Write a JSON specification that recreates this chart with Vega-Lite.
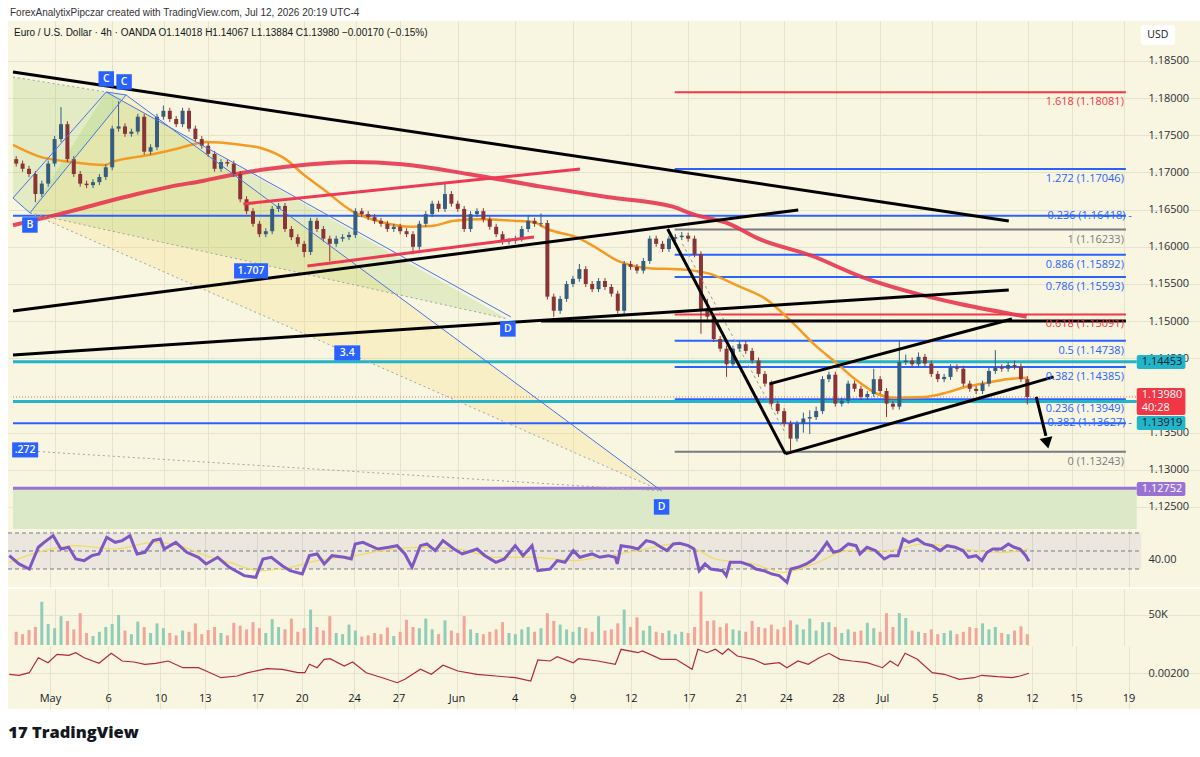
{
"$schema":"https://vega.github.io/schema/vega-lite/v6.json",
"background":"#ffffff",
"padding":{"left":3,"top":8,"right":0,"bottom":12},
"spacing":0,
"config":{
 "view":{"stroke":null,"fill":"#f8f6e1"},
 "font":"Open Sans",
 "axis":{"labelFont":"Open Sans","labelFontSize":11,"labelColor":"#2a2e39","gridColor":"#e6e3cc","domain":false,"ticks":false,"tickSize":0}
},
"title":{"text":"17  TradingView","orient":"bottom","anchor":"start","font":"Open Sans","fontSize":16.5,"fontWeight":800,"color":"#131722","offset":16,"dx":5},
"datasets":{
"candles":[
{"k":0,"o":1.1718,"h":1.1722,"l":1.1708,"c":1.1712,"v":22},
{"k":1,"o":1.1712,"h":1.1716,"l":1.1701,"c":1.1705,"v":18},
{"k":2,"o":1.1705,"h":1.1709,"l":1.1694,"c":1.1698,"v":25},
{"k":3,"o":1.1698,"h":1.1702,"l":1.1660,"c":1.1671,"v":30},
{"k":4,"o":1.1671,"h":1.1689,"l":1.1667,"c":1.1685,"v":72},
{"k":5,"o":1.1685,"h":1.1716,"l":1.1681,"c":1.1712,"v":35},
{"k":6,"o":1.1712,"h":1.1749,"l":1.1708,"c":1.1745,"v":28},
{"k":7,"o":1.1745,"h":1.1788,"l":1.1741,"c":1.1765,"v":48},
{"k":8,"o":1.1765,"h":1.1769,"l":1.1714,"c":1.1718,"v":40},
{"k":9,"o":1.1718,"h":1.1722,"l":1.1694,"c":1.1698,"v":26},
{"k":10,"o":1.1698,"h":1.1702,"l":1.1681,"c":1.1685,"v":53},
{"k":11,"o":1.1685,"h":1.1689,"l":1.1679,"c":1.1683,"v":20},
{"k":12,"o":1.1683,"h":1.1691,"l":1.1679,"c":1.1687,"v":15},
{"k":13,"o":1.1687,"h":1.1698,"l":1.1683,"c":1.1694,"v":22},
{"k":14,"o":1.1694,"h":1.1711,"l":1.1690,"c":1.1707,"v":30},
{"k":15,"o":1.1707,"h":1.1763,"l":1.1703,"c":1.1759,"v":35},
{"k":16,"o":1.1759,"h":1.1796,"l":1.1755,"c":1.1762,"v":50},
{"k":17,"o":1.1762,"h":1.1766,"l":1.1748,"c":1.1752,"v":24},
{"k":18,"o":1.1752,"h":1.1759,"l":1.1748,"c":1.1755,"v":18},
{"k":19,"o":1.1755,"h":1.1779,"l":1.1751,"c":1.1775,"v":39},
{"k":20,"o":1.1775,"h":1.1779,"l":1.1724,"c":1.1728,"v":30},
{"k":21,"o":1.1728,"h":1.1738,"l":1.1724,"c":1.1734,"v":20},
{"k":22,"o":1.1734,"h":1.1779,"l":1.1730,"c":1.1775,"v":36},
{"k":23,"o":1.1775,"h":1.1790,"l":1.1771,"c":1.1783,"v":28},
{"k":24,"o":1.1783,"h":1.1787,"l":1.1768,"c":1.1772,"v":20},
{"k":25,"o":1.1772,"h":1.1776,"l":1.1761,"c":1.1765,"v":16},
{"k":26,"o":1.1765,"h":1.1787,"l":1.1761,"c":1.1783,"v":24},
{"k":27,"o":1.1783,"h":1.1787,"l":1.1755,"c":1.1759,"v":22},
{"k":28,"o":1.1759,"h":1.1763,"l":1.1741,"c":1.1745,"v":36},
{"k":29,"o":1.1745,"h":1.1749,"l":1.1732,"c":1.1736,"v":18},
{"k":30,"o":1.1736,"h":1.1740,"l":1.1721,"c":1.1725,"v":25},
{"k":31,"o":1.1725,"h":1.1729,"l":1.1701,"c":1.1705,"v":30},
{"k":32,"o":1.1705,"h":1.1718,"l":1.1701,"c":1.1714,"v":20},
{"k":33,"o":1.1714,"h":1.1718,"l":1.1708,"c":1.1712,"v":16},
{"k":34,"o":1.1712,"h":1.1716,"l":1.1694,"c":1.1698,"v":37},
{"k":35,"o":1.1698,"h":1.1702,"l":1.1660,"c":1.1664,"v":32},
{"k":36,"o":1.1664,"h":1.1668,"l":1.1644,"c":1.1648,"v":26},
{"k":37,"o":1.1648,"h":1.1652,"l":1.1627,"c":1.1631,"v":38},
{"k":38,"o":1.1631,"h":1.1635,"l":1.1613,"c":1.1617,"v":28},
{"k":39,"o":1.1617,"h":1.1625,"l":1.1613,"c":1.1621,"v":20},
{"k":40,"o":1.1621,"h":1.1655,"l":1.1617,"c":1.1651,"v":43},
{"k":41,"o":1.1651,"h":1.1659,"l":1.1647,"c":1.1655,"v":30},
{"k":42,"o":1.1655,"h":1.1659,"l":1.1620,"c":1.1624,"v":26},
{"k":43,"o":1.1624,"h":1.1628,"l":1.1609,"c":1.1613,"v":44},
{"k":44,"o":1.1613,"h":1.1617,"l":1.1600,"c":1.1604,"v":22},
{"k":45,"o":1.1604,"h":1.1608,"l":1.1586,"c":1.1593,"v":28},
{"k":46,"o":1.1593,"h":1.1639,"l":1.1589,"c":1.1635,"v":59},
{"k":47,"o":1.1635,"h":1.1639,"l":1.1620,"c":1.1624,"v":30},
{"k":48,"o":1.1624,"h":1.1628,"l":1.1607,"c":1.1611,"v":24},
{"k":49,"o":1.1611,"h":1.1615,"l":1.1581,"c":1.1604,"v":48},
{"k":50,"o":1.1604,"h":1.1615,"l":1.1600,"c":1.1611,"v":20},
{"k":51,"o":1.1611,"h":1.1617,"l":1.1607,"c":1.1613,"v":18},
{"k":52,"o":1.1613,"h":1.1620,"l":1.1609,"c":1.1616,"v":34},
{"k":53,"o":1.1616,"h":1.1652,"l":1.1612,"c":1.1648,"v":24},
{"k":54,"o":1.1648,"h":1.1652,"l":1.1640,"c":1.1644,"v":14},
{"k":55,"o":1.1644,"h":1.1648,"l":1.1636,"c":1.1640,"v":16},
{"k":56,"o":1.1640,"h":1.1644,"l":1.1631,"c":1.1635,"v":20},
{"k":57,"o":1.1635,"h":1.1639,"l":1.1627,"c":1.1631,"v":18},
{"k":58,"o":1.1631,"h":1.1635,"l":1.1620,"c":1.1624,"v":29},
{"k":59,"o":1.1624,"h":1.1631,"l":1.1620,"c":1.1627,"v":15},
{"k":60,"o":1.1627,"h":1.1631,"l":1.1617,"c":1.1621,"v":22},
{"k":61,"o":1.1621,"h":1.1625,"l":1.1613,"c":1.1617,"v":42},
{"k":62,"o":1.1617,"h":1.1621,"l":1.1590,"c":1.1600,"v":30},
{"k":63,"o":1.1600,"h":1.1635,"l":1.1596,"c":1.1631,"v":28},
{"k":64,"o":1.1631,"h":1.1648,"l":1.1627,"c":1.1644,"v":44},
{"k":65,"o":1.1644,"h":1.1662,"l":1.1640,"c":1.1658,"v":26},
{"k":66,"o":1.1658,"h":1.1662,"l":1.1647,"c":1.1651,"v":18},
{"k":67,"o":1.1651,"h":1.1685,"l":1.1647,"c":1.1671,"v":41},
{"k":68,"o":1.1671,"h":1.1675,"l":1.1654,"c":1.1658,"v":24},
{"k":69,"o":1.1658,"h":1.1662,"l":1.1647,"c":1.1651,"v":20},
{"k":70,"o":1.1651,"h":1.1655,"l":1.1620,"c":1.1624,"v":48},
{"k":71,"o":1.1624,"h":1.1648,"l":1.1620,"c":1.1644,"v":26},
{"k":72,"o":1.1644,"h":1.1652,"l":1.1640,"c":1.1648,"v":20},
{"k":73,"o":1.1648,"h":1.1652,"l":1.1633,"c":1.1637,"v":18},
{"k":74,"o":1.1637,"h":1.1641,"l":1.1623,"c":1.1627,"v":22},
{"k":75,"o":1.1627,"h":1.1631,"l":1.1613,"c":1.1617,"v":26},
{"k":76,"o":1.1617,"h":1.1621,"l":1.1603,"c":1.1607,"v":38},
{"k":77,"o":1.1607,"h":1.1612,"l":1.1603,"c":1.1608,"v":20},
{"k":78,"o":1.1608,"h":1.1615,"l":1.1604,"c":1.1611,"v":18},
{"k":79,"o":1.1611,"h":1.1628,"l":1.1607,"c":1.1624,"v":26},
{"k":80,"o":1.1624,"h":1.1643,"l":1.1620,"c":1.1635,"v":30},
{"k":81,"o":1.1635,"h":1.1639,"l":1.1627,"c":1.1631,"v":22},
{"k":82,"o":1.1631,"h":1.1645,"l":1.1627,"c":1.1632,"v":28},
{"k":83,"o":1.1632,"h":1.1636,"l":1.1529,"c":1.1533,"v":53},
{"k":84,"o":1.1533,"h":1.1537,"l":1.1506,"c":1.1514,"v":40},
{"k":85,"o":1.1514,"h":1.1534,"l":1.1510,"c":1.1530,"v":34},
{"k":86,"o":1.1530,"h":1.1554,"l":1.1526,"c":1.1550,"v":26},
{"k":87,"o":1.1550,"h":1.1561,"l":1.1546,"c":1.1557,"v":22},
{"k":88,"o":1.1557,"h":1.1577,"l":1.1553,"c":1.1570,"v":30},
{"k":89,"o":1.1570,"h":1.1574,"l":1.1546,"c":1.1550,"v":28},
{"k":90,"o":1.1550,"h":1.1554,"l":1.1539,"c":1.1543,"v":22},
{"k":91,"o":1.1543,"h":1.1558,"l":1.1539,"c":1.1554,"v":48},
{"k":92,"o":1.1554,"h":1.1558,"l":1.1542,"c":1.1546,"v":24},
{"k":93,"o":1.1546,"h":1.1550,"l":1.1533,"c":1.1537,"v":26},
{"k":94,"o":1.1537,"h":1.1541,"l":1.1510,"c":1.1514,"v":36},
{"k":95,"o":1.1514,"h":1.1581,"l":1.1510,"c":1.1577,"v":59},
{"k":96,"o":1.1577,"h":1.1581,"l":1.1569,"c":1.1573,"v":30},
{"k":97,"o":1.1573,"h":1.1577,"l":1.1564,"c":1.1568,"v":46},
{"k":98,"o":1.1568,"h":1.1585,"l":1.1564,"c":1.1581,"v":24},
{"k":99,"o":1.1581,"h":1.1615,"l":1.1577,"c":1.1611,"v":32},
{"k":100,"o":1.1611,"h":1.1615,"l":1.1600,"c":1.1604,"v":22},
{"k":101,"o":1.1604,"h":1.1608,"l":1.1593,"c":1.1597,"v":20},
{"k":102,"o":1.1597,"h":1.1615,"l":1.1593,"c":1.1611,"v":24},
{"k":103,"o":1.1611,"h":1.1617,"l":1.1607,"c":1.1613,"v":18},
{"k":104,"o":1.1613,"h":1.1620,"l":1.1609,"c":1.1615,"v":22},
{"k":105,"o":1.1615,"h":1.1619,"l":1.1607,"c":1.1611,"v":20},
{"k":106,"o":1.1611,"h":1.1615,"l":1.1586,"c":1.1590,"v":30},
{"k":107,"o":1.1590,"h":1.1594,"l":1.1483,"c":1.1516,"v":89},
{"k":108,"o":1.1516,"h":1.1530,"l":1.1502,"c":1.1506,"v":40},
{"k":109,"o":1.1506,"h":1.1510,"l":1.1472,"c":1.1476,"v":41},
{"k":110,"o":1.1476,"h":1.1480,"l":1.1459,"c":1.1463,"v":30},
{"k":111,"o":1.1463,"h":1.1467,"l":1.1425,"c":1.1442,"v":36},
{"k":112,"o":1.1442,"h":1.1467,"l":1.1438,"c":1.1463,"v":26},
{"k":113,"o":1.1463,"h":1.1473,"l":1.1459,"c":1.1469,"v":24},
{"k":114,"o":1.1469,"h":1.1473,"l":1.1456,"c":1.1460,"v":22},
{"k":115,"o":1.1460,"h":1.1464,"l":1.1443,"c":1.1447,"v":40},
{"k":116,"o":1.1447,"h":1.1451,"l":1.1425,"c":1.1429,"v":30},
{"k":117,"o":1.1429,"h":1.1433,"l":1.1412,"c":1.1416,"v":28},
{"k":118,"o":1.1416,"h":1.1420,"l":1.1385,"c":1.1389,"v":34},
{"k":119,"o":1.1389,"h":1.1393,"l":1.1375,"c":1.1379,"v":26},
{"k":120,"o":1.1379,"h":1.1383,"l":1.1358,"c":1.1362,"v":30},
{"k":121,"o":1.1362,"h":1.1366,"l":1.1325,"c":1.1342,"v":41},
{"k":122,"o":1.1342,"h":1.1366,"l":1.1338,"c":1.1362,"v":34},
{"k":123,"o":1.1362,"h":1.1377,"l":1.1350,"c":1.1369,"v":26},
{"k":124,"o":1.1369,"h":1.1380,"l":1.1348,"c":1.1371,"v":44},
{"k":125,"o":1.1371,"h":1.1385,"l":1.1367,"c":1.1379,"v":24},
{"k":126,"o":1.1379,"h":1.1426,"l":1.1375,"c":1.1422,"v":38},
{"k":127,"o":1.1422,"h":1.1432,"l":1.1418,"c":1.1428,"v":38},
{"k":128,"o":1.1428,"h":1.1432,"l":1.1385,"c":1.1389,"v":30},
{"k":129,"o":1.1389,"h":1.1397,"l":1.1385,"c":1.1393,"v":20},
{"k":130,"o":1.1393,"h":1.1420,"l":1.1389,"c":1.1416,"v":26},
{"k":131,"o":1.1416,"h":1.1420,"l":1.1405,"c":1.1409,"v":22},
{"k":132,"o":1.1409,"h":1.1413,"l":1.1394,"c":1.1398,"v":24},
{"k":133,"o":1.1398,"h":1.1406,"l":1.1394,"c":1.1402,"v":37},
{"k":134,"o":1.1402,"h":1.1436,"l":1.1398,"c":1.1422,"v":28},
{"k":135,"o":1.1422,"h":1.1426,"l":1.1402,"c":1.1406,"v":22},
{"k":136,"o":1.1406,"h":1.1410,"l":1.1371,"c":1.1389,"v":53},
{"k":137,"o":1.1389,"h":1.1393,"l":1.1381,"c":1.1385,"v":30},
{"k":138,"o":1.1385,"h":1.1473,"l":1.1381,"c":1.1445,"v":53},
{"k":139,"o":1.1445,"h":1.1455,"l":1.1441,"c":1.1447,"v":45},
{"k":140,"o":1.1447,"h":1.1451,"l":1.1438,"c":1.1442,"v":24},
{"k":141,"o":1.1442,"h":1.1458,"l":1.1438,"c":1.1452,"v":22},
{"k":142,"o":1.1452,"h":1.1456,"l":1.1439,"c":1.1443,"v":20},
{"k":143,"o":1.1443,"h":1.1447,"l":1.1425,"c":1.1429,"v":26},
{"k":144,"o":1.1429,"h":1.1433,"l":1.1418,"c":1.1422,"v":18},
{"k":145,"o":1.1422,"h":1.1429,"l":1.1418,"c":1.1425,"v":20},
{"k":146,"o":1.1425,"h":1.1442,"l":1.1421,"c":1.1438,"v":24},
{"k":147,"o":1.1438,"h":1.1442,"l":1.1432,"c":1.1436,"v":18},
{"k":148,"o":1.1436,"h":1.1440,"l":1.1412,"c":1.1416,"v":22},
{"k":149,"o":1.1416,"h":1.1420,"l":1.1405,"c":1.1409,"v":30},
{"k":150,"o":1.1409,"h":1.1413,"l":1.1402,"c":1.1406,"v":28},
{"k":151,"o":1.1406,"h":1.1420,"l":1.1402,"c":1.1416,"v":36},
{"k":152,"o":1.1416,"h":1.1437,"l":1.1412,"c":1.1433,"v":26},
{"k":153,"o":1.1433,"h":1.1461,"l":1.1429,"c":1.1438,"v":30},
{"k":154,"o":1.1438,"h":1.1442,"l":1.1432,"c":1.1436,"v":20},
{"k":155,"o":1.1436,"h":1.1445,"l":1.1432,"c":1.1441,"v":18},
{"k":156,"o":1.1441,"h":1.1447,"l":1.1435,"c":1.1439,"v":24},
{"k":157,"o":1.1439,"h":1.1443,"l":1.1418,"c":1.1422,"v":31},
{"k":158,"o":1.1422,"h":1.1426,"l":1.1388,"c":1.1398,"v":18}
],
"ma":[
{"s":"e50","k":-0.5,"p":1.1737},{"s":"e50","k":3.4,"p":1.1722},{"s":"e50","k":8.6,"p":1.1714},{"s":"e50","k":13.8,"p":1.1710},{"s":"e50","k":15.3,"p":1.1715},{"s":"e50","k":18.9,"p":1.1721},{"s":"e50","k":21.5,"p":1.1725},{"s":"e50","k":25.1,"p":1.1732},{"s":"e50","k":27.7,"p":1.1738},{"s":"e50","k":29.7,"p":1.1741},{"s":"e50","k":34.4,"p":1.1738},{"s":"e50","k":38.6,"p":1.1732},{"s":"e50","k":42.1,"p":1.1718},{"s":"e50","k":44.8,"p":1.1698},{"s":"e50","k":47.9,"p":1.1678},{"s":"e50","k":52.5,"p":1.1648},{"s":"e50","k":57.2,"p":1.1633},{"s":"e50","k":61.8,"p":1.1627},{"s":"e50","k":64.9,"p":1.1628},{"s":"e50","k":68.5,"p":1.1635},{"s":"e50","k":72.6,"p":1.1637},{"s":"e50","k":77.8,"p":1.1635},{"s":"e50","k":80.9,"p":1.1633},{"s":"e50","k":83.0,"p":1.1624},{"s":"e50","k":88.1,"p":1.1611},{"s":"e50","k":90.2,"p":1.1601},{"s":"e50","k":94.3,"p":1.1580},{"s":"e50","k":97.9,"p":1.1572},{"s":"e50","k":104.7,"p":1.1569},{"s":"e50","k":108.3,"p":1.1564},{"s":"e50","k":112.9,"p":1.1547},{"s":"e50","k":117.1,"p":1.1530},{"s":"e50","k":121.2,"p":1.1499},{"s":"e50","k":124.9,"p":1.1467},{"s":"e50","k":128.0,"p":1.1445},{"s":"e50","k":131.1,"p":1.1422},{"s":"e50","k":134.6,"p":1.1402},{"s":"e50","k":137.3,"p":1.1397},{"s":"e50","k":141.9,"p":1.1398},{"s":"e50","k":145.0,"p":1.1403},{"s":"e50","k":148.6,"p":1.1412},{"s":"e50","k":151.7,"p":1.1417},{"s":"e50","k":154.8,"p":1.1422},{"s":"e50","k":157.9,"p":1.1424},
{"s":"e200","k":-0.5,"p":1.1629},{"s":"e200","k":3.4,"p":1.1637},{"s":"e200","k":8.6,"p":1.1648},{"s":"e200","k":13.8,"p":1.1660},{"s":"e200","k":18.9,"p":1.1671},{"s":"e200","k":24.1,"p":1.1681},{"s":"e200","k":29.3,"p":1.1689},{"s":"e200","k":34.4,"p":1.1698},{"s":"e200","k":39.6,"p":1.1705},{"s":"e200","k":44.8,"p":1.1710},{"s":"e200","k":52.5,"p":1.1714},{"s":"e200","k":60.3,"p":1.1711},{"s":"e200","k":70.6,"p":1.1698},{"s":"e200","k":82.0,"p":1.1681},{"s":"e200","k":92.3,"p":1.1667},{"s":"e200","k":102.6,"p":1.1654},{"s":"e200","k":105.7,"p":1.1644},{"s":"e200","k":111.4,"p":1.1631},{"s":"e200","k":116.0,"p":1.1611},{"s":"e200","k":124.3,"p":1.1588},{"s":"e200","k":132.0,"p":1.1560},{"s":"e200","k":139.8,"p":1.1539},{"s":"e200","k":147.5,"p":1.1523},{"s":"e200","k":157.9,"p":1.1506}
],
"tl":[
{"id":"B1","g":"b","k":-0.5,"p":1.18352},{"id":"B1","g":"b","k":155.1,"p":1.16348},
{"id":"B2","g":"b","k":-0.5,"p":1.15137},{"id":"B2","g":"b","k":122.2,"p":1.16496},
{"id":"B3","g":"b","k":-0.5,"p":1.14546},{"id":"B3","g":"b","k":155.1,"p":1.15420},
{"id":"B4","g":"b","k":82.0,"p":1.15003},{"id":"B4","g":"b","k":173.4,"p":1.15003},
{"id":"B5","g":"b","k":101.8,"p":1.16240},{"id":"B5","g":"b","k":120.2,"p":1.13214},
{"id":"B6","g":"b","k":117.7,"p":1.14156},{"id":"B6","g":"b","k":155.6,"p":1.15030},
{"id":"B7","g":"b","k":120.2,"p":1.13214},{"id":"B7","g":"b","k":162.1,"p":1.14250},
{"id":"AR","g":"b","k":159.4,"p":1.13981},{"id":"AR","g":"b","k":160.9,"p":1.13456},
{"id":"L1","g":"r","k":35.5,"p":1.16577},{"id":"L1","g":"r","k":88.1,"p":1.17047},
{"id":"L2","g":"r","k":45.5,"p":1.15743},{"id":"L2","g":"r","k":80.9,"p":1.16133},
{"id":"P1","g":"u","k":-0.5,"p":1.16657},{"id":"P1","g":"u","k":14.07,"p":1.18083},
{"id":"P2","g":"u","k":2.14,"p":1.16456},{"id":"P2","g":"u","k":17.17,"p":1.18043},
{"id":"P3","g":"u","k":-0.5,"p":1.16657},{"id":"P3","g":"u","k":2.14,"p":1.16456},
{"id":"P4","g":"u","k":14.07,"p":1.18083},{"id":"P4","g":"u","k":17.17,"p":1.18043},
{"id":"CD1","g":"u","k":14.07,"p":1.18083},{"id":"CD1","g":"u","k":77.3,"p":1.15057},
{"id":"CD2","g":"u","k":17.17,"p":1.18043},{"id":"CD2","g":"u","k":100.85,"p":1.12716},
{"id":"D1","g":"d","k":-0.5,"p":1.18285},{"id":"D1","g":"d","k":14.07,"p":1.18083},
{"id":"D2","g":"d","k":2.14,"p":1.16456},{"id":"D2","g":"d","k":76.83,"p":1.15030},
{"id":"D3","g":"d","k":2.14,"p":1.16456},{"id":"D3","g":"d","k":100.85,"p":1.12716},
{"id":"D4","g":"d","k":-0.5,"p":1.13268},{"id":"D4","g":"d","k":100.85,"p":1.12716},
{"id":"G1","g":"s","k":104.1,"p":1.1604},{"id":"G1","g":"s","k":120.2,"p":1.1349}
],
"tri":[
{"id":"T3","o":0,"k":2.14,"p":1.16456},{"id":"T3","o":1,"k":17.17,"p":1.18043},{"id":"T3","o":2,"k":100.85,"p":1.12716},{"id":"T3","o":3,"k":2.14,"p":1.16456},
{"id":"T1","o":0,"k":-0.5,"p":1.18285},{"id":"T1","o":1,"k":14.07,"p":1.18083},{"id":"T1","o":2,"k":-0.5,"p":1.16657},{"id":"T1","o":3,"k":-0.5,"p":1.18285},
{"id":"T2","o":0,"k":2.14,"p":1.16456},{"id":"T2","o":1,"k":14.07,"p":1.18083},{"id":"T2","o":2,"k":76.83,"p":1.15030},{"id":"T2","o":3,"k":2.14,"p":1.16456},
{"id":"T4","o":0,"k":-0.5,"p":1.16657},{"id":"T4","o":1,"k":14.07,"p":1.18083},{"id":"T4","o":2,"k":17.17,"p":1.18043},{"id":"T4","o":3,"k":2.14,"p":1.16456},{"id":"T4","o":4,"k":-0.5,"p":1.16657}
],
"pl":[
{"t":"C","k":14.07,"p":1.18258,"w":"n"},{"t":"C","k":16.86,"p":1.18218,"w":"n"},{"t":"B","k":2.14,"p":1.16294,"w":"n"},{"t":"D","k":76.83,"p":1.14896,"w":"n"},{"t":"D","k":100.85,"p":1.12501,"w":"n"},
{"t":"1.707","k":36.7,"p":1.15676,"w":"w"},{"t":"3.4","k":51.73,"p":1.14573,"w":"m"},{"t":".272","k":1.4,"p":1.13268,"w":"m"}
],
"fib":[
{"p":1.18081,"lab":"1.618 (1.18081)","kind":"r","k1":102.9,"k2":173.4},
{"p":1.17046,"lab":"1.272 (1.17046)","kind":"b","k1":102.9,"k2":173.4},
{"p":1.16233,"lab":"1 (1.16233)","kind":"g","k1":102.9,"k2":173.4},
{"p":1.15892,"lab":"0.886 (1.15892)","kind":"b","k1":102.9,"k2":173.4},
{"p":1.15593,"lab":"0.786 (1.15593)","kind":"b","k1":102.9,"k2":173.4},
{"p":1.15091,"lab":"0.618 (1.15091)","kind":"r","k1":102.9,"k2":173.4},
{"p":1.14738,"lab":"0.5 (1.14738)","kind":"b","k1":102.9,"k2":173.4},
{"p":1.14385,"lab":"0.382 (1.14385)","kind":"b","k1":102.9,"k2":173.4},
{"p":1.13949,"lab":"0.236 (1.13949)","kind":"b","k1":102.9,"k2":173.4},
{"p":1.13243,"lab":"0 (1.13243)","kind":"g","k1":102.9,"k2":173.4},
{"p":1.16418,"lab":"0.236 (1.16418) -","kind":"t","k1":-0.5,"k2":173.4},
{"p":1.13627,"lab":"0.382 (1.13627) -","kind":"t","k1":-0.5,"k2":173.4}
],
"hl":[{"p":1.14453,"kind":"cy"},{"p":1.13919,"kind":"cy"},{"p":1.12752,"kind":"pu"}],
"tags":[
{"t":"1.14453","kind":"cy","pt":1.14545,"pb":1.14356,"py":1.14453},
{"t":"1.13980","kind":"rd","pt":1.14101,"pb":1.13737,"py":1.14006},
{"t":"1.13919","kind":"cy","pt":1.13724,"pb":1.13536,"py":1.13630},
{"t":"1.12752","kind":"pu","pt":1.12836,"pb":1.12648,"py":1.12742}
],
"rsi":[
{"k":-0.3,"v":44.8},{"k":1.2,"v":35.6},{"k":2.8,"v":30.0},{"k":4.2,"v":54.1},{"k":5.1,"v":59.6},{"k":6.5,"v":67.0},{"k":7.7,"v":52.2},{"k":8.9,"v":54.1},{"k":10.0,"v":41.1},{"k":11.3,"v":39.3},{"k":12.5,"v":44.8},{"k":13.6,"v":46.7},{"k":14.8,"v":65.2},{"k":16.1,"v":59.6},{"k":17.2,"v":61.5},{"k":18.4,"v":67.0},{"k":19.5,"v":46.7},{"k":20.7,"v":48.5},{"k":22.0,"v":61.5},{"k":23.1,"v":63.3},{"k":23.7,"v":52.2},{"k":25.5,"v":59.6},{"k":27.2,"v":48.5},{"k":29.0,"v":43.0},{"k":30.2,"v":35.6},{"k":32.0,"v":43.0},{"k":33.8,"v":31.9},{"k":36.1,"v":22.6},{"k":37.9,"v":20.7},{"k":39.0,"v":41.1},{"k":40.3,"v":43.0},{"k":42.0,"v":33.7},{"k":43.2,"v":28.1},{"k":45.1,"v":24.4},{"k":46.2,"v":44.8},{"k":47.4,"v":46.7},{"k":48.5,"v":35.6},{"k":49.7,"v":44.8},{"k":51.6,"v":43.0},{"k":52.7,"v":41.1},{"k":53.3,"v":57.8},{"k":54.5,"v":59.6},{"k":56.8,"v":52.2},{"k":58.5,"v":54.1},{"k":59.8,"v":55.9},{"k":61.0,"v":46.7},{"k":62.1,"v":31.9},{"k":63.4,"v":55.9},{"k":64.4,"v":57.8},{"k":65.7,"v":50.4},{"k":66.9,"v":61.5},{"k":68.6,"v":52.2},{"k":69.9,"v":46.7},{"k":72.2,"v":52.2},{"k":73.4,"v":44.8},{"k":75.1,"v":37.4},{"k":76.4,"v":41.1},{"k":78.1,"v":55.9},{"k":79.3,"v":44.8},{"k":80.7,"v":55.9},{"k":81.6,"v":28.1},{"k":83.5,"v":30.0},{"k":84.6,"v":39.3},{"k":85.8,"v":37.4},{"k":87.1,"v":50.4},{"k":88.1,"v":43.0},{"k":90.0,"v":46.7},{"k":91.2,"v":43.0},{"k":92.5,"v":44.8},{"k":93.6,"v":43.0},{"k":93.9,"v":35.6},{"k":94.5,"v":55.9},{"k":96.1,"v":54.1},{"k":97.1,"v":52.2},{"k":98.4,"v":61.5},{"k":99.5,"v":59.6},{"k":100.7,"v":54.1},{"k":101.6,"v":50.4},{"k":102.6,"v":57.8},{"k":103.6,"v":58.5},{"k":104.9,"v":55.9},{"k":105.8,"v":52.2},{"k":106.6,"v":28.1},{"k":107.5,"v":35.6},{"k":108.4,"v":30.0},{"k":110.2,"v":28.1},{"k":110.8,"v":22.6},{"k":111.4,"v":37.4},{"k":113.1,"v":37.4},{"k":114.6,"v":33.7},{"k":115.4,"v":30.0},{"k":116.6,"v":28.1},{"k":117.9,"v":24.4},{"k":119.0,"v":22.6},{"k":120.2,"v":15.2},{"k":120.8,"v":30.0},{"k":121.9,"v":31.9},{"k":123.2,"v":35.6},{"k":124.4,"v":41.1},{"k":125.5,"v":50.4},{"k":126.4,"v":59.6},{"k":127.4,"v":48.5},{"k":128.4,"v":50.4},{"k":129.7,"v":57.8},{"k":130.9,"v":55.9},{"k":131.5,"v":46.7},{"k":132.6,"v":54.1},{"k":133.9,"v":50.4},{"k":135.3,"v":41.1},{"k":136.2,"v":44.8},{"k":137.4,"v":44.8},{"k":138.2,"v":63.3},{"k":139.1,"v":59.6},{"k":140.4,"v":63.3},{"k":141.5,"v":57.8},{"k":142.7,"v":55.9},{"k":143.9,"v":50.4},{"k":145.0,"v":55.9},{"k":146.3,"v":54.1},{"k":147.5,"v":50.4},{"k":148.3,"v":43.0},{"k":149.5,"v":44.8},{"k":150.4,"v":39.3},{"k":151.2,"v":48.5},{"k":152.1,"v":52.2},{"k":153.4,"v":52.2},{"k":154.5,"v":57.8},{"k":155.4,"v":54.1},{"k":156.3,"v":52.2},{"k":157.2,"v":44.8},{"k":157.7,"v":38.6}
],
"rsima":[
{"k":-0.3,"v":37.4},{"k":4.2,"v":48.5},{"k":10.0,"v":55.9},{"k":16.1,"v":52.2},{"k":22.0,"v":59.6},{"k":26.0,"v":55.9},{"k":30.2,"v":44.8},{"k":33.8,"v":37.4},{"k":38.6,"v":28.1},{"k":43.2,"v":31.9},{"k":47.4,"v":39.3},{"k":53.3,"v":44.8},{"k":57.5,"v":50.4},{"k":63.4,"v":54.1},{"k":69.2,"v":52.2},{"k":75.1,"v":43.0},{"k":81.0,"v":43.0},{"k":87.1,"v":39.3},{"k":90.9,"v":43.0},{"k":97.1,"v":50.4},{"k":103.0,"v":57.8},{"k":106.6,"v":50.4},{"k":109.1,"v":41.1},{"k":115.0,"v":35.6},{"k":119.6,"v":26.3},{"k":124.4,"v":35.6},{"k":129.7,"v":50.4},{"k":135.6,"v":50.4},{"k":141.5,"v":57.8},{"k":147.5,"v":52.2},{"k":153.4,"v":48.5},{"k":157.7,"v":52.2}
],
"ind":[
{"k":-0.3,"v":0.00187},{"k":1.2,"v":0.00177},{"k":2.8,"v":0.00203},{"k":4.2,"v":0.00353},{"k":5.7,"v":0.00303},{"k":7.1,"v":0.00387},{"k":8.9,"v":0.00377},{"k":10.0,"v":0.00403},{"k":11.3,"v":0.00353},{"k":13.6,"v":0.00297},{"k":15.5,"v":0.00397},{"k":17.2,"v":0.0032},{"k":19.0,"v":0.0031},{"k":20.7,"v":0.00287},{"k":22.4,"v":0.00297},{"k":24.3,"v":0.0032},{"k":26.6,"v":0.00253},{"k":29.0,"v":0.00253},{"k":30.2,"v":0.0022},{"k":32.5,"v":0.00153},{"k":35.0,"v":0.0017},{"k":36.7,"v":0.00203},{"k":39.6,"v":0.00243},{"k":42.0,"v":0.00237},{"k":44.4,"v":0.00203},{"k":45.5,"v":0.00203},{"k":46.2,"v":0.00287},{"k":47.4,"v":0.00253},{"k":48.5,"v":0.00337},{"k":49.4,"v":0.00343},{"k":51.6,"v":0.0027},{"k":52.9,"v":0.0031},{"k":55.0,"v":0.00203},{"k":57.5,"v":0.00153},{"k":59.8,"v":0.00103},{"k":61.0,"v":0.00137},{"k":63.4,"v":0.00237},{"k":65.1,"v":0.00187},{"k":66.9,"v":0.00277},{"k":69.2,"v":0.0022},{"k":72.2,"v":0.00187},{"k":75.1,"v":0.0017},{"k":78.1,"v":0.00153},{"k":80.5,"v":0.0012},{"k":81.6,"v":0.0033},{"k":83.5,"v":0.0032},{"k":84.6,"v":0.00363},{"k":87.1,"v":0.00303},{"k":87.9,"v":0.00343},{"k":90.9,"v":0.0032},{"k":93.6,"v":0.00287},{"k":94.5,"v":0.00437},{"k":97.1,"v":0.00403},{"k":97.8,"v":0.0042},{"k":100.7,"v":0.00337},{"k":103.0,"v":0.00337},{"k":105.5,"v":0.00237},{"k":106.4,"v":0.00437},{"k":107.8,"v":0.00403},{"k":109.1,"v":0.00437},{"k":110.2,"v":0.00387},{"k":111.1,"v":0.00443},{"k":112.5,"v":0.0037},{"k":115.0,"v":0.00337},{"k":116.7,"v":0.00287},{"k":119.0,"v":0.00303},{"k":120.2,"v":0.00253},{"k":121.9,"v":0.0032},{"k":123.5,"v":0.00287},{"k":125.2,"v":0.00353},{"k":126.7,"v":0.00397},{"k":128.4,"v":0.00337},{"k":130.3,"v":0.0032},{"k":132.6,"v":0.00303},{"k":135.0,"v":0.00253},{"k":136.2,"v":0.0032},{"k":137.4,"v":0.0027},{"k":138.5,"v":0.00397},{"k":140.4,"v":0.00337},{"k":142.7,"v":0.00203},{"k":144.6,"v":0.00187},{"k":146.9,"v":0.00137},{"k":149.2,"v":0.00153},{"k":150.4,"v":0.00177},{"k":152.8,"v":0.00163},{"k":155.1,"v":0.00153},{"k":156.3,"v":0.0017},{"k":157.7,"v":0.00197}
],
"rsilev":[{"v":70},{"v":50},{"v":30}]
},
"vconcat":[
{
"width":1192,"height":508,
"title":{"text":"ForexAnalytixPipczar created with TradingView.com, Jul 12, 2026 20:19 UTC-4","anchor":"start","font":"Liberation Sans","fontSize":10,"fontWeight":"normal","color":"#333333","offset":3,"dx":5},
"resolve":{"scale":{"color":"independent","fill":"independent","strokeWidth":"independent"}},
"layer":[
{"data":{"values":[{"k1":-0.5,"k2":175.1,"p1":1.12752,"p2":1.12204}]},
 "mark":{"type":"rect","fill":"#dce9c8"},
 "encoding":{
  "x":{"field":"k1","type":"quantitative","title":null,"scale":{"domain":[-0.5,184.2],"nice":false,"zero":false},
       "axis":{"values":[6,15,23.125,30,38.125,45,53.125,60,69,78,87,96,105,113.125,120,128.125,135,143.125,150,158.125,165,173.125],"labels":false,"grid":true,"title":null}},
  "x2":{"field":"k2"},
  "y":{"field":"p1","type":"quantitative","title":null,"scale":{"domain":[1.12204,1.19038],"nice":false,"zero":false},
       "axis":{"orient":"right","values":[1.125,1.13,1.135,1.145,1.15,1.155,1.16,1.165,1.17,1.175,1.18,1.185],"format":".5f","labelAlign":"left","labelPadding":-52,"grid":true,"title":null}},
  "y2":{"field":"p2"}}},
{"data":{"name":"tri"},"transform":[{"filter":"datum.id === 'T3'"}],
 "mark":{"type":"line","fill":"#ffd54f","fillOpacity":0.18,"strokeWidth":0},
 "encoding":{"x":{"field":"k","type":"quantitative","title":null},"y":{"field":"p","type":"quantitative","title":null},"order":{"field":"o","type":"quantitative"}}},
{"data":{"name":"tri"},"transform":[{"filter":"datum.id !== 'T3'"}],
 "mark":{"type":"line","fill":"#8bc34a","fillOpacity":0.2,"strokeWidth":0},
 "encoding":{"x":{"field":"k","type":"quantitative","title":null},"y":{"field":"p","type":"quantitative","title":null},"detail":{"field":"id"},"order":{"field":"o","type":"quantitative"}}},
{"data":{"name":"fib"},
 "mark":{"type":"rule"},
 "encoding":{"x":{"field":"k1","type":"quantitative","title":null},"x2":{"field":"k2"},"y":{"field":"p","type":"quantitative","title":null},
  "color":{"field":"kind","type":"nominal","scale":{"domain":["r","b","g","t"],"range":["#f23645","#2962ff","#787b86","#2962ff"]},"legend":null},
  "strokeWidth":{"field":"kind","type":"nominal","scale":{"domain":["r","b","g","t"],"range":[2,2,2,1]},"legend":null}}},
{"data":{"name":"hl"},
 "mark":{"type":"rule","strokeWidth":3},
 "encoding":{"x":{"datum":-0.5},"x2":{"datum":175.1},"y":{"field":"p","type":"quantitative","title":null},
  "color":{"field":"kind","type":"nominal","scale":{"domain":["cy","pu"],"range":["#22b5c9","#9a72d4"]},"legend":null}}},
{"data":{"values":[{"p":1.1398}]},
 "mark":{"type":"rule","strokeWidth":1,"color":"#e0707a","strokeDash":[1,2]},
 "encoding":{"x":{"datum":-0.5},"x2":{"datum":175.1},"y":{"field":"p","type":"quantitative","title":null}}},
{"data":{"name":"ma"},"transform":[{"filter":"datum.s === 'e50'"}],
 "mark":{"type":"line","color":"#f59a23","strokeWidth":2.5,"interpolate":"monotone"},
 "encoding":{"x":{"field":"k","type":"quantitative","title":null},"y":{"field":"p","type":"quantitative","title":null}}},
{"data":{"name":"ma"},"transform":[{"filter":"datum.s === 'e200'"}],
 "mark":{"type":"line","color":"#e5364f","strokeWidth":4,"opacity":0.9,"interpolate":"monotone"},
 "encoding":{"x":{"field":"k","type":"quantitative","title":null},"y":{"field":"p","type":"quantitative","title":null}}},
{"data":{"name":"candles"},
 "mark":{"type":"rule","strokeWidth":1},
 "encoding":{"x":{"field":"k","type":"quantitative","title":null},"y":{"field":"l","type":"quantitative","title":null},"y2":{"field":"h"},
  "color":{"condition":{"test":"datum.c >= datum.o","value":"#375d7e"},"value":"#8a3535"}}},
{"data":{"name":"candles"},
 "mark":{"type":"bar","size":4},
 "encoding":{"x":{"field":"k","type":"quantitative","title":null},"y":{"field":"o","type":"quantitative","title":null},"y2":{"field":"c"},
  "color":{"condition":{"test":"datum.c >= datum.o","value":"#375d7e"},"value":"#8a3535"}}},
{"data":{"values":[{"t":"Euro / U.S. Dollar · 4h · OANDA   O1.14018  H1.14067  L1.13884  C1.13980  −0.00170 (−0.15%)","k":-0.35,"p":1.18877}]},
 "mark":{"type":"text","align":"left","baseline":"middle","font":"Liberation Sans","fontSize":10,"color":"#131722"},
 "encoding":{"x":{"field":"k","type":"quantitative","title":null},"y":{"field":"p","type":"quantitative","title":null},"text":{"field":"t"}}},
{"data":{"name":"tl"},"transform":[{"filter":"datum.g === 'u'"}],
 "mark":{"type":"line","color":"#4a72e8","strokeWidth":1},
 "encoding":{"x":{"field":"k","type":"quantitative","title":null},"y":{"field":"p","type":"quantitative","title":null},"detail":{"field":"id"}}},
{"data":{"name":"tl"},"transform":[{"filter":"datum.g === 'd'"}],
 "mark":{"type":"line","color":"#9aa3ad","strokeWidth":1,"strokeDash":[2,3]},
 "encoding":{"x":{"field":"k","type":"quantitative","title":null},"y":{"field":"p","type":"quantitative","title":null},"detail":{"field":"id"}}},
{"data":{"name":"tl"},"transform":[{"filter":"datum.g === 's'"}],
 "mark":{"type":"line","color":"#9a9a9a","strokeWidth":1,"strokeDash":[3,3]},
 "encoding":{"x":{"field":"k","type":"quantitative","title":null},"y":{"field":"p","type":"quantitative","title":null},"detail":{"field":"id"}}},
{"data":{"name":"tl"},"transform":[{"filter":"datum.g === 'r'"}],
 "mark":{"type":"line","color":"#ec3a55","strokeWidth":3},
 "encoding":{"x":{"field":"k","type":"quantitative","title":null},"y":{"field":"p","type":"quantitative","title":null},"detail":{"field":"id"}}},
{"data":{"name":"tl"},"transform":[{"filter":"datum.g === 'b'"}],
 "mark":{"type":"line","color":"#000000","strokeWidth":3},
 "encoding":{"x":{"field":"k","type":"quantitative","title":null},"y":{"field":"p","type":"quantitative","title":null},"detail":{"field":"id"}}},
{"data":{"values":[{"k":161.1,"p":1.1336}]},
 "mark":{"type":"point","shape":"triangle-down","filled":true,"color":"#000000","size":170,"opacity":1,"angle":-12},
 "encoding":{"x":{"field":"k","type":"quantitative","title":null},"y":{"field":"p","type":"quantitative","title":null}}},
{"data":{"name":"pl"},"transform":[{"filter":"datum.w === 'n'"}],
 "mark":{"type":"point","shape":"square","filled":true,"color":"#2962ff","size":240,"opacity":1},
 "encoding":{"x":{"field":"k","type":"quantitative","title":null},"y":{"field":"p","type":"quantitative","title":null}}},
{"data":{"name":"pl"},"transform":[{"filter":"datum.w === 'w'"}],
 "mark":{"type":"point","shape":"M-1,-0.45L1,-0.45L1,0.45L-1,0.45Z","filled":true,"color":"#2962ff","size":1156,"opacity":1},
 "encoding":{"x":{"field":"k","type":"quantitative","title":null},"y":{"field":"p","type":"quantitative","title":null}}},
{"data":{"name":"pl"},"transform":[{"filter":"datum.w === 'm'"}],
 "mark":{"type":"point","shape":"M-1,-0.58L1,-0.58L1,0.58L-1,0.58Z","filled":true,"color":"#2962ff","size":676,"opacity":1},
 "encoding":{"x":{"field":"k","type":"quantitative","title":null},"y":{"field":"p","type":"quantitative","title":null}}},
{"data":{"name":"pl"},
 "mark":{"type":"text","color":"#ffffff","fontSize":10.5,"fontWeight":600,"baseline":"middle"},
 "encoding":{"x":{"field":"k","type":"quantitative","title":null},"y":{"field":"p","type":"quantitative","title":null},"text":{"field":"t"}}},
{"data":{"name":"fib"},"transform":[{"filter":"datum.kind !== 't'"}],
 "mark":{"type":"text","align":"right","baseline":"middle","dy":10,"dx":-2,"fontSize":11},
 "encoding":{"x":{"field":"k2","type":"quantitative","title":null},"y":{"field":"p","type":"quantitative","title":null},"text":{"field":"lab"},
  "color":{"field":"kind","type":"nominal","scale":{"domain":["r","b","g","t"],"range":["#f23645","#2962ff","#787b86","#2962ff"]},"legend":null}}},
{"data":{"name":"fib"},"transform":[{"filter":"datum.kind === 't'"}],
 "mark":{"type":"text","align":"right","baseline":"middle","dx":6,"fontSize":11,"color":"#2962ff"},
 "encoding":{"x":{"field":"k2","type":"quantitative","title":null},"y":{"field":"p","type":"quantitative","title":null},"text":{"field":"lab"}}},
{"data":{"name":"tags"},
 "mark":{"type":"rect","cornerRadius":2},
 "encoding":{"x":{"datum":175.1},"x2":{"datum":182.7},"y":{"field":"pt","type":"quantitative","title":null},"y2":{"field":"pb"},
  "fill":{"field":"kind","type":"nominal","scale":{"domain":["cy","rd","pu"],"range":["#22b5c9","#f23645","#9a72d4"]},"legend":null}}},
{"data":{"name":"tags"},
 "mark":{"type":"text","align":"left","baseline":"middle","dx":5,"fontSize":11},
 "encoding":{"x":{"datum":175.1},"y":{"field":"py","type":"quantitative","title":null},"text":{"field":"t"},
  "color":{"field":"kind","type":"nominal","scale":{"domain":["cy","rd","pu"],"range":["#10202e","#ffffff","#ffffff"]},"legend":null}}},
{"data":{"values":[{"t":"40:28","py":1.13831}]},
 "mark":{"type":"text","align":"left","baseline":"middle","dx":5,"fontSize":11,"color":"#ffffff"},
 "encoding":{"x":{"datum":175.1},"y":{"field":"py","type":"quantitative","title":null},"text":{"field":"t"}}},
{"data":{"values":[{"t":"USD","pt":1.18984,"pb":1.18715}]},
 "mark":{"type":"rect","fill":"#ffffff","cornerRadius":3},
 "encoding":{"x":{"datum":175.7},"x2":{"datum":181.1},"y":{"field":"pt","type":"quantitative","title":null},"y2":{"field":"pb"}}},
{"data":{"values":[{"t":"USD","py":1.1885}]},
 "mark":{"type":"text","align":"center","baseline":"middle","fontSize":10.5,"color":"#131722"},
 "encoding":{"x":{"datum":178.4},"y":{"field":"py","type":"quantitative","title":null},"text":{"field":"t"}}}
]
},
{
"width":1192,"height":58,
"layer":[
{"data":{"values":[{"a":70,"b":30}]},
 "mark":{"type":"rect","fill":"#7e57c2","fillOpacity":0.1},
 "encoding":{
  "x":{"datum":-0.5,"type":"quantitative","scale":{"domain":[-0.5,184.2],"nice":false,"zero":false},
       "axis":{"values":[6,15,23.125,30,38.125,45,53.125,60,69,78,87,96,105,113.125,120,128.125,135,143.125,150,158.125,165,173.125],"labels":false,"grid":true,"title":null}},
  "x2":{"datum":175.1},
  "y":{"field":"a","type":"quantitative","title":null,"scale":{"domain":[10,74.4],"nice":false,"zero":false},
       "axis":{"orient":"right","values":[40],"format":".2f","labelAlign":"left","labelPadding":-52,"grid":false,"title":null}},
  "y2":{"field":"b"}}},
{"data":{"name":"rsilev"},
 "mark":{"type":"rule","color":"#787b86","strokeDash":[4,3],"strokeWidth":1},
 "encoding":{"x":{"datum":-0.5},"x2":{"datum":175.1},"y":{"field":"v","type":"quantitative","title":null}}},
{"data":{"name":"rsima"},
 "mark":{"type":"line","color":"#f2dc5d","strokeWidth":1.2,"interpolate":"monotone"},
 "encoding":{"x":{"field":"k","type":"quantitative","title":null},"y":{"field":"v","type":"quantitative","title":null}}},
{"data":{"name":"rsi"},
 "mark":{"type":"line","color":"#7e57c2","strokeWidth":3},
 "encoding":{"x":{"field":"k","type":"quantitative","title":null},"y":{"field":"v","type":"quantitative","title":null}}}
]
},
{
"width":1192,"height":57,
"data":{"name":"candles"},
"mark":{"type":"bar","size":3},
"encoding":{
 "x":{"field":"k","type":"quantitative","title":null,"scale":{"domain":[-0.5,184.2],"nice":false,"zero":false},
      "axis":{"values":[6,15,23.125,30,38.125,45,53.125,60,69,78,87,96,105,113.125,120,128.125,135,143.125,150,158.125,165,173.125],"labels":false,"grid":true,"title":null}},
 "y":{"field":"v","type":"quantitative","title":null,"scale":{"domain":[-1.7,93.3],"nice":false,"zero":false},
      "axis":{"orient":"right","values":[50],"labelExpr":"'50K'","labelAlign":"left","labelPadding":-52,"grid":true,"title":null}},
 "y2":{"datum":0},
 "color":{"condition":{"test":"datum.c >= datum.o","value":"#8fcdb8"},"value":"#f2a598"}}
},
{
"width":1192,"height":63,
"data":{"name":"ind"},
"mark":{"type":"line","color":"#b2283a","strokeWidth":1.2},
"encoding":{
 "x":{"field":"k","type":"quantitative","title":null,"scale":{"domain":[-0.5,184.2],"nice":false,"zero":false},
      "axis":{"values":[6,15,23.125,30,38.125,45,53.125,60,69,78,87,96,105,113.125,120,128.125,135,143.125,150,158.125,165,173.125],
              "labelExpr":"['May','6','10','13','17','20','24','27','Jun','4','9','12','17','21','24','28','Jul','5','8','12','15','19'][indexof([6,15,23.125,30,38.125,45,53.125,60,69,78,87,96,105,113.125,120,128.125,135,143.125,150,158.125,165,173.125], datum.value)]",
              "labelBaseline":"middle","labelPadding":-11,"labelColor":"#131722","labelOverlap":false,"labelFlush":false,"grid":true,"title":null}},
 "y":{"field":"v","type":"quantitative","title":null,"scale":{"domain":[-0.0016,0.0047],"nice":false,"zero":false},
      "axis":{"orient":"right","values":[0.002],"format":".5f","labelAlign":"left","labelPadding":-52,"grid":true,"title":null}}}
}
]
}
